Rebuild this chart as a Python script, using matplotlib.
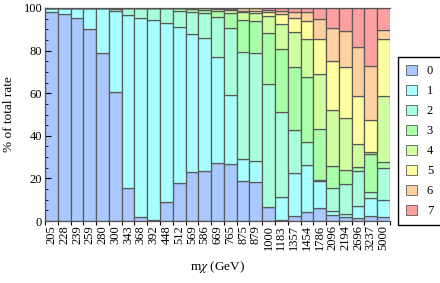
import matplotlib
matplotlib.use("Agg")
import matplotlib.pyplot as plt
import numpy as np
from matplotlib.patches import Patch

plt.rcParams['font.family'] = ['Liberation Serif', 'DejaVu Serif']
plt.rcParams['mathtext.fontset'] = 'stix'

masses = ["205", "228", "239", "259", "280", "300", "343", "368", "392", "448",
          "512", "569", "586", "669", "765", "875", "879", "1000", "1183", "1357",
          "1454", "1786", "2096", "2194", "2696", "3237", "5000"]

s0 = [98.0, 97.2, 95.3, 90.1, 78.8, 60.5, 15.4, 2.0, 0.5, 8.8, 18.0, 22.9, 23.6, 27.1,
      26.7, 19.0, 18.5, 6.4, 0.5, 2.4, 4.4, 6.0, 2.8, 2.0, 1.3, 2.4, 2.0]
s1 = [2.0, 2.8, 4.7, 9.9, 21.2, 38.0, 81.4, 93.3, 94.0, 84.1, 72.9, 64.9, 62.4, 50.1,
      32.5, 10.3, 9.8, 0.4, 10.9, 20.0, 21.9, 12.8, 1.9, 1.3, 5.9, 8.6, 7.9]
s2 = [0, 0, 0, 0, 0, 1.0, 3.2, 4.7, 5.5, 7.1, 7.5, 10.1, 11.6, 18.6,
      31.4, 50.0, 50.5, 57.5, 40.0, 20.1, 11.0, 0.5, 10.7, 13.9, 16.3, 2.8, 14.9]
s3 = [0, 0, 0, 0, 0, 0.5, 0, 0, 0, 0, 1.6, 1.6, 1.6, 2.9,
      7.0, 14.9, 14.9, 23.9, 29.3, 30.0, 30.1, 23.8, 10.6, 6.6, 2.0, 17.7, 2.8]
s4 = [0, 0, 0, 0, 0, 0, 0, 0, 0, 0, 0, 0.5, 0.8, 1.0,
      1.4, 3.7, 3.9, 8.2, 11.8, 16.0, 18.0, 25.7, 26.2, 24.5, 10.7, 1.1, 31.2]
s5 = [0, 0, 0, 0, 0, 0, 0, 0, 0, 0, 0, 0, 0, 0.3,
      0.6, 0.8, 1.1, 1.7, 4.7, 6.8, 8.6, 16.6, 22.7, 23.8, 22.6, 14.6, 26.6]
s6 = [0, 0, 0, 0, 0, 0, 0, 0, 0, 0, 0, 0, 0, 0,
      0.4, 1.3, 1.3, 1.1, 1.5, 2.8, 4.1, 9.4, 15.7, 16.9, 22.9, 25.7, 4.1]
s7 = [0, 0, 0, 0, 0, 0, 0, 0, 0, 0, 0, 0, 0, 0,
      0, 0, 0, 0.8, 1.3, 1.9, 1.9, 5.2, 9.4, 11.0, 18.3, 27.1, 10.5]

series = [s0, s1, s2, s3, s4, s5, s6, s7]
series_labels = ["0", "1", "2", "3", "4", "5", "6", "7"]
colors = ["#a8c8ff", "#a8ffff", "#a8ffdc", "#a8ffa8", "#d0ffa0", "#ffffa0", "#ffd0a0", "#ffa0a0"]

fig = plt.figure(figsize=(4.4, 2.83), dpi=100)
ax = fig.add_axes([45/440, 1-221/283, 345/440, 213/283])

x = np.arange(len(masses))
bottom = np.zeros(len(masses))
for vals, col in zip(series, colors):
    v = np.array(vals, dtype=float)
    ax.bar(x, v, width=1.0, bottom=bottom, color=col, edgecolor="#5a5a5a", linewidth=0.9)
    bottom += v

ax.set_xlim(-0.5, len(masses) - 0.5)
ax.set_ylim(0, 100)
ax.set_xticks(x)
ax.set_xticklabels(masses, rotation=90, fontsize=9)
ax.set_xticks(np.arange(len(masses) + 1) - 0.5, minor=True)
ax.tick_params(axis='x', which='major', length=0, pad=3)
ax.tick_params(axis='x', which='minor', length=3, direction='out', width=0.8)
ax.set_yticks([0, 20, 40, 60, 80, 100])
ax.set_yticks(np.arange(0, 101, 5), minor=True)
ax.tick_params(axis='y', which='major', length=4, direction='in', labelsize=9, width=0.8, pad=2)
ax.tick_params(axis='y', which='minor', length=2, direction='in', width=0.6)
for sp in ax.spines.values():
    sp.set_color("#555555")
    sp.set_linewidth(0.9)
ax.spines['right'].set_visible(False)

ax.set_ylabel("% of total rate", fontsize=9.5, labelpad=6)
ax.set_xlabel("m$\\chi$ (GeV)", fontsize=9.5, labelpad=6)

handles = [Patch(facecolor=c, edgecolor="#5a5a5a", linewidth=0.6) for c in colors]
leg = fig.legend(handles, series_labels, loc='center left',
                 bbox_to_anchor=(398/440, 1-141/283), fontsize=9,
                 frameon=True, fancybox=False, framealpha=1, edgecolor='black',
                 handlelength=0.9, handleheight=0.9, handletextpad=0.8,
                 labelspacing=0.6, borderpad=0.6, borderaxespad=0)
leg.get_frame().set_linewidth(1.0)

fig.savefig("out.png", dpi=100)
